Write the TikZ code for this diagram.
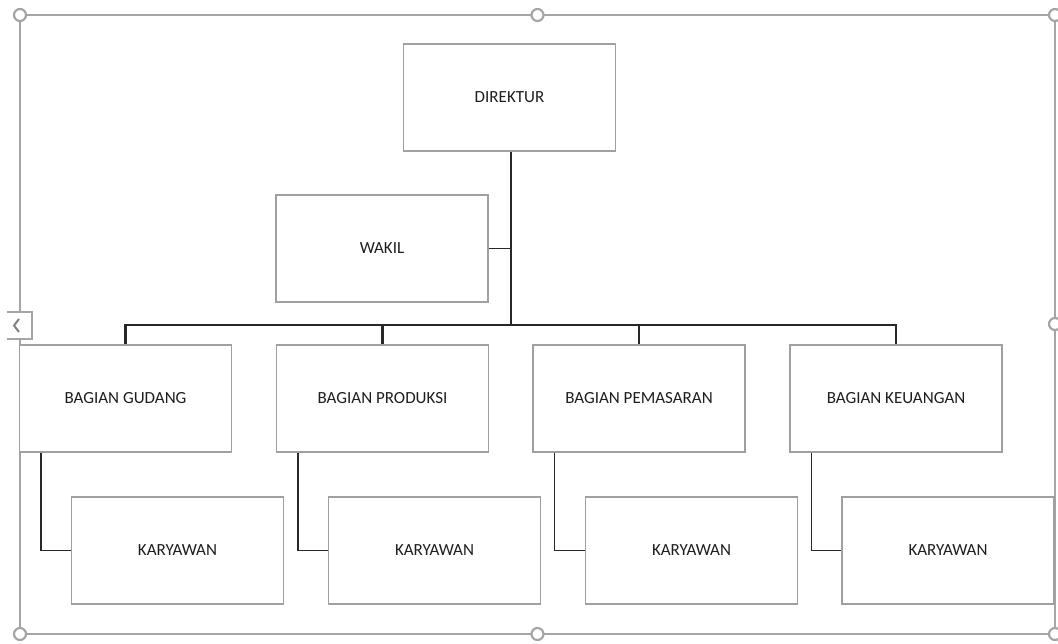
\documentclass[tikz,border=0pt]{standalone}
\usepackage{fontspec}
\setmainfont{Carlito}
\definecolor{boxgray}{RGB}{160,160,160}
\definecolor{framegray}{RGB}{165,165,165}
\definecolor{linedark}{RGB}{40,40,40}
\definecolor{txt}{RGB}{30,30,30}
\begin{document}
\begin{tikzpicture}[x=1pt,y=-1pt,
  orgbox/.style={draw=boxgray,line width=1.1pt,fill=white,minimum width=212pt,minimum height=107pt,
    inner sep=0pt,text=txt,font=\fontsize{17}{20}\selectfont},
  trunk/.style={draw=linedark,line width=2.2pt},
  sub/.style={draw=linedark,line width=1.6pt},
  handle/.style={draw=framegray,line width=2.2pt,fill=white},
  frameline/.style={draw=framegray,line width=1.5pt}]
\useasboundingbox (0,0) rectangle (1058,643);
% selection frame
\draw[frameline] (20,15) -- (1055,15) -- (1055,634) -- (20,634) -- (20,339);
\draw[frameline] (20,312) -- (20,15);
\draw[frameline] (7,312) -- (32,312) -- (32,339) -- (7,339);
\draw[draw=gray,line width=2pt] (19,319) -- (14,325.5) -- (19,332);
% nodes
\node[orgbox] (dir) at (509.5,97.5) {DIREKTUR};
\node[orgbox] (wakil) at (382,248.5) {WAKIL};
\node[orgbox] (gud) at (125.5,398.5) {BAGIAN GUDANG};
\node[orgbox] (pro) at (382.5,398.5) {BAGIAN PRODUKSI};
\node[orgbox] (pem) at (639,398.5) {BAGIAN PEMASARAN};
\node[orgbox] (keu) at (896,398.5) {BAGIAN KEUANGAN};
\node[orgbox] (k1) at (177.5,550.5) {KARYAWAN};
\node[orgbox] (k2) at (434.5,550.5) {KARYAWAN};
\node[orgbox] (k3) at (691.5,550.5) {KARYAWAN};
\node[orgbox] (k4) at (948,550.5) {KARYAWAN};
\coordinate (bus) at (511,325);
% connectors
\draw[trunk] (dir.south -| bus) -- (bus);
\draw[sub] (wakil.east) -- (wakil.east -| bus);
\draw[trunk] (gud.north) |- (bus) -| (keu.north);
\draw[trunk] (pro.north) -- (pro.north |- bus);
\draw[trunk] (pem.north) -- (pem.north |- bus);
\draw[sub] ([xshift=22pt]gud.south west) |- (k1.west);
\draw[sub] ([xshift=22pt]pro.south west) |- (k2.west);
\draw[sub] ([xshift=22pt]pem.south west) |- (k3.west);
\draw[sub] ([xshift=22pt]keu.south west) |- (k4.west);
% handles
\foreach \p in {(20,15),(537.5,15),(1055,15),(20,634),(537.5,634),(1055,634),(1055,324)}
  \draw[handle] \p circle (6pt);
\end{tikzpicture}
\end{document}
